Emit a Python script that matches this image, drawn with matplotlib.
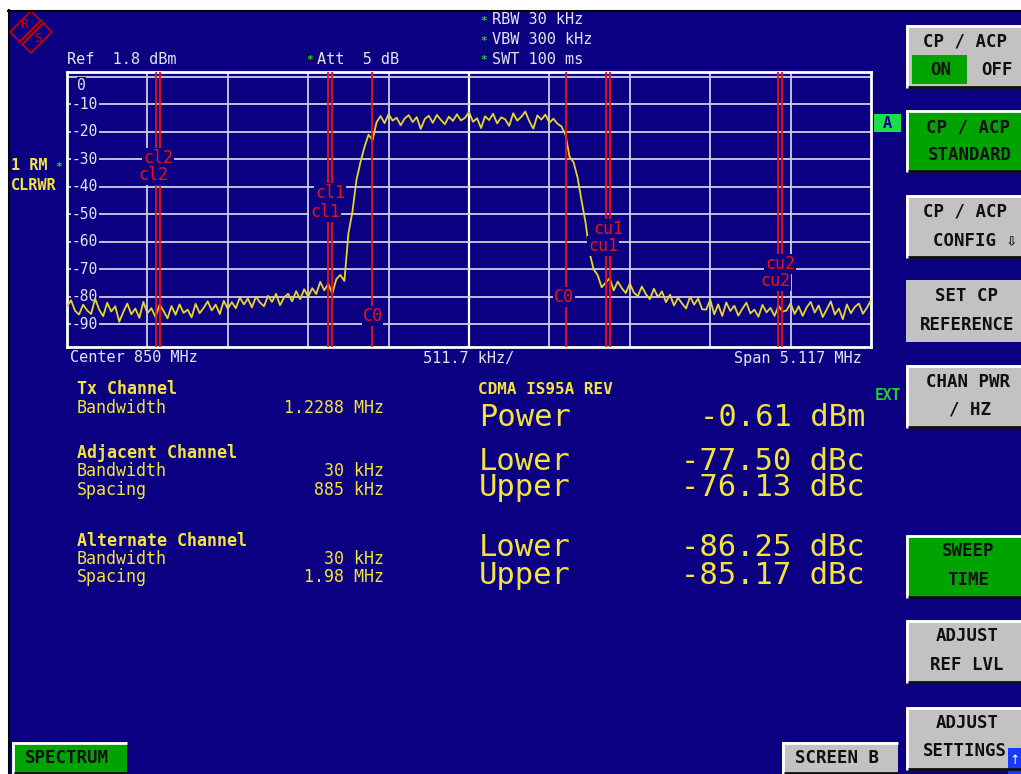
import numpy as np
import matplotlib
matplotlib.use('Agg')
import matplotlib.pyplot as plt
from matplotlib.patches import Rectangle, Polygon
from matplotlib.transforms import blended_transform_factory

# analyser settings shown on the screen
center_mhz = 850
span_mhz = 5.117
ref_dbm = 1.8
range_db = 100
grid_db = [0, -10, -20, -30, -40, -50, -60, -70, -80, -90]

# CDMA IS95A channel setup
tx_bw = 1.2288
adj_spacing = 0.885
adj_bw = 0.03
alt_spacing = 1.98
alt_bw = 0.03

# trace (dBm), sweep points evenly across the span
trace_db = [
    -83.5, -81.2, -85.0, -86.4, -82.8, -84.9, -86.2, -80.6, -84.6, -87.0, -82.1,
    -85.3, -83.4, -89.0, -85.5, -82.4, -86.3, -84.2, -87.6, -81.8, -85.9,
    -84.1, -87.3, -82.9, -85.0, -87.8, -83.3, -86.5, -82.7, -85.8, -84.6,
    -87.4, -82.5, -85.9, -84.0, -81.6, -84.9, -82.8, -86.2, -81.4, -84.3,
    -81.9, -84.1, -80.2, -82.7, -80.6, -83.8, -79.9, -82.0, -83.4, -79.6,
    -81.8, -78.9, -83.0, -80.2, -78.8, -81.6, -77.9, -80.8, -77.2, -79.9,
    -76.8, -78.9, -74.5, -77.6, -75.2, -78.8,
    -73.5, -72.0, -74.2, -57.0, -49.0, -37.5, -31.0, -25.5, -21.0, -23.0, -16.5,
    -14.2, -16.8, -13.5, -15.9, -14.8, -17.6, -15.1, -13.9, -16.4, -14.6,
    -18.9, -15.3, -14.1, -16.7, -13.8, -15.6, -17.2, -14.4, -16.0, -13.6,
    -15.8, -14.9, -12.8, -16.3, -15.0, -18.6, -14.3, -15.7, -13.4, -16.9,
    -14.7, -15.4, -17.8, -13.2, -15.9, -14.5, -12.6, -16.1, -18.8, -14.0,
    -15.5, -13.7, -16.6, -15.2, -17.0,
    -18.0, -21.0, -29.0, -31.0, -36.5, -45.0, -53.0, -64.0, -70.0, -72.0, -76.5, -74.8,
    -73.2, -77.6, -74.4, -76.8, -78.6, -75.1, -78.4, -79.7, -76.2, -79.0,
    -80.8, -77.0, -80.1, -78.0,
    -81.9, -79.2, -83.1, -80.3, -82.4, -84.2, -79.9, -82.8, -80.6, -84.5,
    -84.6, -81.0, -86.3, -82.7, -86.9, -82.0, -85.1, -83.2, -86.8, -84.3,
    -82.1, -86.0, -84.6, -87.2, -82.9, -85.6, -84.0, -86.9, -83.2, -85.4,
    -84.9, -82.3, -86.2, -83.4, -86.9, -83.8, -81.8, -85.7, -83.1, -87.3,
    -84.5, -81.6, -86.4, -84.2, -88.1, -82.7, -85.9, -83.6, -82.4, -86.1,
    -83.9, -81.2,
]

# measurement results
power_dbm = -0.61
adj_lower, adj_upper = -77.50, -76.13
alt_lower, alt_upper = -86.25, -85.17

# colours of the R&S screen
BLUE = '#0c0082'
YEL = '#f2e43c'
TRACE = '#e6d62a'
RED = '#ee1010'
WHITE = '#e4e4f4'
GRID = '#cfcfe6'
GREEN = '#00a400'
LGREEN = '#18e048'
GREY = '#c2c2c2'
MONO = 'DejaVu Sans Mono'
KEYFONT = [MONO, 'DejaVu Sans']

fig = plt.figure(figsize=(10.21, 7.74), dpi=100, facecolor='white')

# whole screen in pixel coordinates
bg = fig.add_axes([0, 0, 1, 1], zorder=0)
bg.set_xlim(0, 1021)
bg.set_ylim(774, 0)
bg.axis('off')
bg.add_patch(Rectangle((8, 10), 1013, 764, facecolor=BLUE, edgecolor='none'))
bg.plot([8, 1021], [10.5, 10.5], color='black', lw=1.5)
bg.plot([8.5, 8.5], [10, 774], color='black', lw=1.5)

# R&S logo
bg.add_patch(Polygon([(31, 11), (52, 32), (31, 53), (10, 32)], closed=True,
                     facecolor='none', edgecolor='#c80000', lw=1.2))
bg.plot([43, 20], [21, 44], color='#c80000', lw=4, solid_capstyle='butt')
bg.plot([43, 20], [21, 44], color=BLUE, lw=1, solid_capstyle='butt')
bg.text(24, 25, 'R', color='#c80000', fontsize=9, family=MONO, ha='center', va='center')
bg.text(38, 39, 'S', color='#c80000', fontsize=9, family=MONO, ha='center', va='center')

# header line
hdr = dict(color=WHITE, fontsize=11, family=MONO, va='center')
star = dict(color='#30d030', fontsize=8, family=MONO, va='center', ha='center', fontweight='bold')
bg.text(67, 59, 'Ref  1.8 dBm', **hdr)
bg.text(310, 60, '*', **star)
bg.text(317, 59, 'Att  5 dB', **hdr)
for yy, s in [(20, 'RBW 30 kHz'), (40, 'VBW 300 kHz'), (59, 'SWT 100 ms')]:
    bg.text(484, yy + 1, '*', **star)
    bg.text(492, yy, s, **hdr)

bg.text(11, 165, '1 RM', color=YEL, fontsize=11, family=MONO, fontweight='bold', va='center')
bg.text(59, 167, '*', **star)
bg.text(11, 186, 'CLRWR', color=YEL, fontsize=11, family=MONO, fontweight='bold', va='center')

bg.add_patch(Rectangle((874, 114), 27, 18, facecolor=LGREEN, edgecolor='none'))
bg.text(887.5, 123, 'A', color=BLUE, fontsize=11, family=MONO, fontweight='bold', ha='center', va='center')
bg.text(888, 395, 'EXT', color='#20d030', fontsize=10.5, family=MONO, fontweight='bold',
        ha='center', va='center')

# spectrum trace
ax = fig.add_axes([67/1021, 1 - 347/774, 804/1021, 275/774], zorder=1)
ax.set_facecolor(BLUE)
half = span_mhz / 2
freq = np.linspace(-half, half, len(trace_db))
ax.set_xlim(-half, half)
ax.set_ylim(ref_dbm - range_db, ref_dbm)
ax.set_xticks([])
ax.set_yticks([])
for sp in ax.spines.values():
    sp.set_color('white')
    sp.set_linewidth(2)

div = span_mhz / 10
for k in range(1, 10):
    xg = -half + k * div
    ax.axvline(xg, color='white' if k == 5 else GRID, lw=1.6 if k == 5 else 1.3, zorder=1)
for g in grid_db:
    ax.axhline(g, color=GRID, lw=1.3, zorder=1)

ax.plot(freq, trace_db, color=TRACE, lw=1.3, zorder=3)

# channel limit lines
chan_lines = [-alt_spacing - alt_bw/2, -alt_spacing + alt_bw/2,
              -adj_spacing - adj_bw/2, -adj_spacing + adj_bw/2,
              -tx_bw/2, tx_bw/2,
              adj_spacing - adj_bw/2, adj_spacing + adj_bw/2,
              alt_spacing - alt_bw/2, alt_spacing + alt_bw/2]
for xl in chan_lines:
    ax.axvline(xl, color=RED, lw=1.3, zorder=4)

bt = blended_transform_factory(ax.transData, ax.transAxes)
lbl = dict(color=RED, fontsize=12, family=MONO, ha='center', va='center', transform=bt, zorder=5,
           bbox=dict(facecolor=BLUE, edgecolor='none', pad=0.6))
shift = 5 * span_mhz / 804


def ypx(p):
    return 1 - (p - 72) / 275


for name, c, y_up, y_lo in [('cl2', -alt_spacing, 158, 175), ('cl1', -adj_spacing, 193, 212),
                            ('cu1', adj_spacing, 229, 246), ('cu2', alt_spacing, 264, 281)]:
    ax.text(c, ypx(y_up), name, **lbl)
    ax.text(c - shift, ypx(y_lo), name, **lbl)
ax.text(-tx_bw/2, ypx(316), 'C0', **lbl)
ax.text(tx_bw/2 - 0.01, ypx(297), 'C0', **lbl)

# level labels inside the grid
tt = blended_transform_factory(ax.transAxes, ax.transData)
for g in grid_db:
    ax.text(0.0125 if g == 0 else 0.006, g - 3 if g == 0 else g, str(g), color=WHITE,
            fontsize=10.5, family=MONO, va='center', ha='left', transform=tt, zorder=2,
            bbox=dict(facecolor=BLUE, edgecolor='none', pad=0.3))

bg.text(70, 358, 'Center %d MHz' % center_mhz, **hdr)
bg.text(469, 358, '%.1f kHz/' % (div * 1000), ha='center', color=WHITE, fontsize=11, family=MONO, va='center')
bg.text(862, 358, 'Span %.3f MHz' % span_mhz, ha='right', color=WHITE, fontsize=11, family=MONO, va='center')

# channel table
bold = dict(color=YEL, fontsize=12, family=MONO, fontweight='bold', va='center')
norm = dict(color=YEL, fontsize=12, family=MONO, va='center')
bg.text(77, 389, 'Tx Channel', **bold)
bg.text(77, 408, 'Bandwidth', **norm)
bg.text(384, 408, '%.4f MHz' % tx_bw, ha='right', **norm)
bg.text(77, 453, 'Adjacent Channel', **bold)
bg.text(77, 471, 'Bandwidth', **norm)
bg.text(384, 471, '%d kHz' % round(adj_bw * 1000), ha='right', **norm)
bg.text(77, 490, 'Spacing', **norm)
bg.text(384, 490, '%d kHz' % round(adj_spacing * 1000), ha='right', **norm)
bg.text(77, 541, 'Alternate Channel', **bold)
bg.text(77, 559, 'Bandwidth', **norm)
bg.text(384, 559, '%d kHz' % round(alt_bw * 1000), ha='right', **norm)
bg.text(77, 577, 'Spacing', **norm)
bg.text(384, 577, '%.2f MHz' % alt_spacing, ha='right', **norm)

big = dict(color=YEL, fontsize=22, family=MONO, va='center')
bg.text(478, 389, 'CDMA IS95A REV', color=YEL, fontsize=11.5, family=MONO, fontweight='bold', va='center')
for yy, name, val, unit in [(418, 'Power', power_dbm, 'dBm'),
                            (461, 'Lower', adj_lower, 'dBc'), (488, 'Upper', adj_upper, 'dBc'),
                            (548, 'Lower', alt_lower, 'dBc'), (575, 'Upper', alt_upper, 'dBc')]:
    bg.text(479, yy, name, **big)
    bg.text(865, yy, '%.2f %s' % (val, unit), ha='right', **big)


# softkeys
def softkey(y0, y1, lines, face=GREY, border=True, x0=906, x1=1021):
    bg.add_patch(Rectangle((x0, y0), x1 - x0, y1 - y0, facecolor=face, edgecolor='none'))
    if border:
        bg.plot([x0, x1], [y0 + 1, y0 + 1], color='white', lw=2, solid_capstyle='butt')
        bg.plot([x0 + 1, x0 + 1], [y0, y1], color='white', lw=2, solid_capstyle='butt')
        bg.plot([x0 + 2, x1], [y1 - 1, y1 - 1], color='#101010', lw=2, solid_capstyle='butt')
    for (xx, yy, s) in lines:
        bg.text(xx, yy, s, color='#101010', fontsize=12.5, family=KEYFONT,
                fontweight='bold', ha='center', va='center')


softkey(25, 88, [(965, 41, 'CP / ACP'), (997, 70, 'OFF')])
bg.add_patch(Rectangle((912, 55), 55, 29, facecolor=GREEN, edgecolor='none'))
bg.text(941, 70, 'ON', color='#101010', fontsize=12.5, family=MONO, fontweight='bold', ha='center', va='center')
softkey(110, 172, [(968, 127, 'CP / ACP'), (970, 155, 'STANDARD')], face=GREEN)
softkey(195, 258, [(965, 212, 'CP / ACP'), (975, 241, 'CONFIG \u21e9')])
softkey(280, 342, [(966, 296, 'SET CP'), (967, 325, 'REFERENCE')], border=False)
softkey(365, 428, [(968, 382, 'CHAN PWR'), (970, 410, '/ HZ')])
softkey(535, 598, [(968, 551, 'SWEEP'), (968, 580, 'TIME')], face=GREEN)
softkey(620, 683, [(967, 636, 'ADJUST'), (967, 665, 'REF LVL')])
softkey(707, 770, [(967, 723, 'ADJUST'), (965, 751, 'SETTINGS')])
bg.add_patch(Rectangle((1008, 748), 13, 26, facecolor='#1838ff', edgecolor='none'))
bg.text(1015, 761, '\u2191', color='white', fontsize=9, ha='center', va='center')

softkey(742, 774, [(67, 758, 'SPECTRUM')], face=GREEN, x0=12, x1=127)
softkey(742, 774, [(837, 758, 'SCREEN B')], x0=782, x1=898)

fig.savefig('out.png', dpi=100, facecolor=fig.get_facecolor())
